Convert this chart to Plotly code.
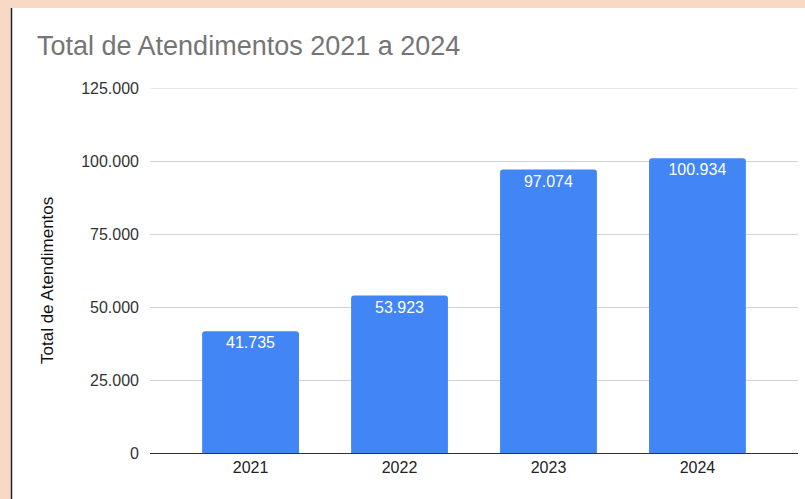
import plotly.graph_objects as go

anos = ["2021", "2022", "2023", "2024"]
atendimentos = [41735, 53923, 97074, 100934]
rotulos = ["41.735", "53.923", "97.074", "100.934"]
y_ticks = [0, 25000, 50000, 75000, 100000, 125000]
y_tick_labels = ["0", "25.000", "50.000", "75.000", "100.000", "125.000"]

W, H = 805, 499
L, R, T, B = 150, 7, 88, 46
pw = W - L - R
ph = H - T - B
fonte = "Liberation Sans, Arial, sans-serif"
grade = "#d3d3d3"

fig = go.Figure()
fig.add_trace(go.Bar(
    x=anos, y=atendimentos,
    text=rotulos, textposition="inside", insidetextanchor="end",
    textfont=dict(color="white", size=16, family=fonte),
    marker=dict(color="#4285f4", line=dict(width=0), cornerradius=3),
    width=0.65,
    hoverinfo="x+y",
))

# white card on peach background
fig.add_shape(type="rect", xref="paper", yref="paper",
              x0=(12 - L) / pw, x1=(W + 5 - L) / pw,
              y0=-(B + 5) / ph, y1=1 + (T - 8) / ph,
              fillcolor="white", line=dict(width=0), layer="below")
fig.add_shape(type="line", xref="paper", yref="paper",
              x0=(11.5 - L) / pw, x1=(11.5 - L) / pw,
              y0=-(B + 5) / ph, y1=1 + (T - 8) / ph,
              line=dict(color="#222222", width=1.5), layer="below")
# top gridline (plotly skips it at the range edge)
fig.add_shape(type="line", xref="paper", yref="y",
              x0=0, x1=1, y0=y_ticks[-1], y1=y_ticks[-1],
              line=dict(color=grade, width=1), layer="below")

# y axis title placed by hand
fig.add_annotation(text="Total de Atendimentos", textangle=-90, showarrow=False,
                   xref="paper", yref="paper",
                   x=(47 - L) / pw, y=1 - (280 - T) / ph,
                   xanchor="center", yanchor="middle",
                   font=dict(size=17, color="#111111", family=fonte))

fig.update_xaxes(type="category", range=[-0.675, 3.675], showgrid=False,
                 ticks="", tickfont=dict(size=16, color="#222222", family=fonte),
                 showline=True, linecolor="#333333", linewidth=1)
fig.update_yaxes(range=[0, 125000], tickvals=y_ticks, ticktext=y_tick_labels,
                 showgrid=True, gridcolor=grade, gridwidth=1,
                 zeroline=False, ticks="", ticklabelstandoff=10,
                 tickfont=dict(size=16, color="#333333", family=fonte))

fig.update_layout(
    width=W, height=H,
    margin=dict(l=L, r=R, t=T, b=B),
    separators=",.",
    title=dict(text="Total de Atendimentos 2021 a 2024",
               x=37 / W, xanchor="left", xref="container",
               y=1 - 46 / H, yanchor="middle", yref="container",
               font=dict(size=27, color="#757575", family=fonte)),
    paper_bgcolor="#f7d9c5",
    plot_bgcolor="rgba(0,0,0,0)",
    showlegend=False,
    bargap=0.35,
)

fig.write_html("out.html", config={"displayModeBar": False},
               post_script="document.body.style.margin='0px';"
                           "document.body.style.background='#f7d9c5';")
